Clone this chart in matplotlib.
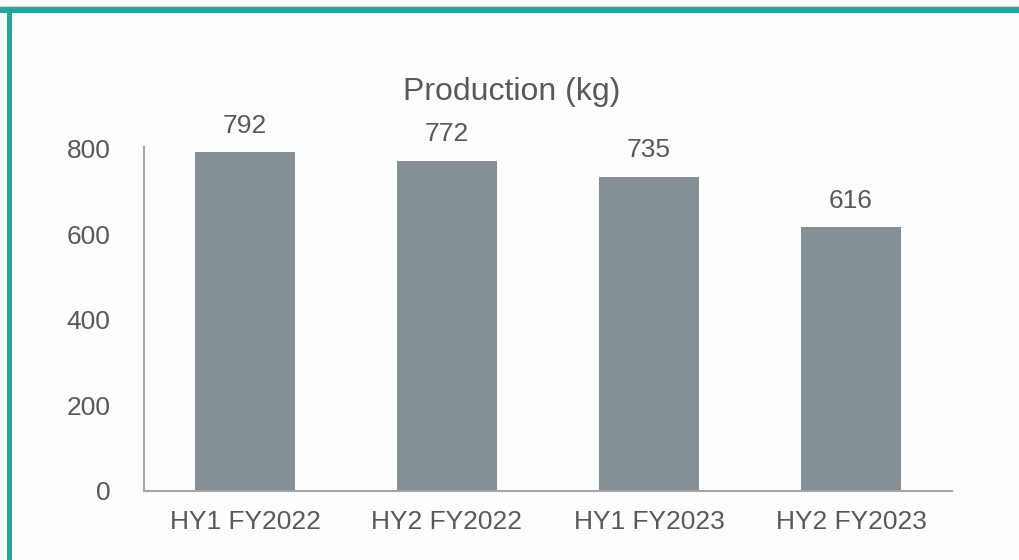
import matplotlib.pyplot as plt
from matplotlib.patches import Rectangle

periods = ['HY1 FY2022', 'HY2 FY2022', 'HY1 FY2023', 'HY2 FY2023']
production = [792, 772, 735, 616]
yticks = [0, 200, 400, 600, 800]

plt.rcParams['font.family'] = ['Liberation Sans', 'DejaVu Sans']
text_col = '#595959'

fig = plt.figure(figsize=(10.2, 5.6), dpi=100)
fig.patch.set_facecolor('#fdfdfd')
W, H = 1020, 560

# frame: thin grey line, then teal band on top and left
fig.add_artist(Rectangle((0, 1 - 7 / H), 1, 1.5 / H, transform=fig.transFigure,
                         color='#d9d9d9', lw=0))
fig.add_artist(Rectangle((0, 1 - 12.5 / H), 1, 5.5 / H, transform=fig.transFigure,
                         color='#20a89a', lw=0))
fig.add_artist(Rectangle((7 / W, 0), 5.5 / W, 1 - 7 / H, transform=fig.transFigure,
                         color='#20a89a', lw=0))

ax = fig.add_axes([144 / W, 69 / H, 808 / W, 344 / H])
ax.set_facecolor('none')
x = range(len(periods))
ax.bar(x, production, width=0.495, color='#858f96')

for xi, v in zip(x, production):
    ax.annotate(f'{v}', xy=(xi, v), xytext=(0, 19), textcoords='offset points',
                ha='center', va='center', fontsize=19, color=text_col)

ax.set_xlim(-0.5, len(periods) - 0.5)
ax.set_ylim(0, 804)
ax.set_yticks(yticks)
ax.set_xticks(list(x))
ax.set_xticklabels(periods)
ax.tick_params(axis='y', length=0, pad=24, labelsize=19, labelcolor=text_col)
ax.tick_params(axis='x', length=0, pad=14, labelsize=19, labelcolor=text_col)
for s in ['top', 'right']:
    ax.spines[s].set_visible(False)
for s in ['left', 'bottom']:
    ax.spines[s].set_color('#a6a6a6')
    ax.spines[s].set_linewidth(1.5)

fig.text(512 / W, 1 - 92 / H, 'Production (kg)', ha='center', va='center',
         fontsize=23, color=text_col)

fig.savefig('out.png', dpi=100, facecolor=fig.get_facecolor())
